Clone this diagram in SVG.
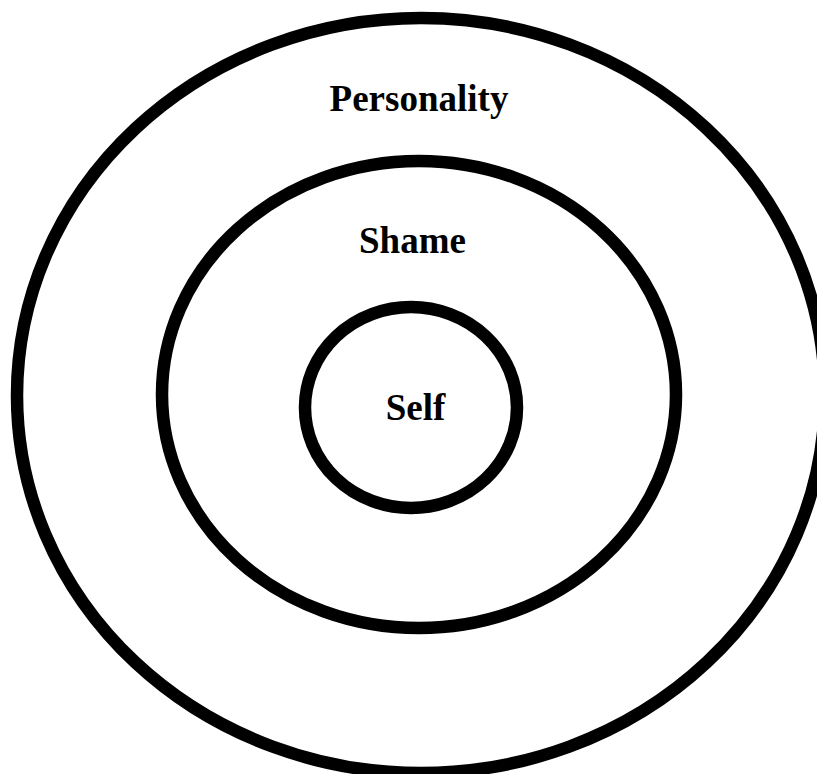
<svg xmlns="http://www.w3.org/2000/svg" width="817" height="774" viewBox="0 0 817 774">
<style>
.ring{fill:none;stroke:#000;stroke-width:12.5}
.lbl{font-family:"Liberation Serif","Times New Roman",serif;font-weight:bold;font-size:37px;fill:#000;text-anchor:middle}
</style>
<rect width="817" height="774" fill="#fff"/>
<g id="personality">
<ellipse class="ring" cx="421" cy="395.5" rx="404" ry="377.5"/>
<text class="lbl" x="419" y="111">Personality</text>
</g>
<g id="shame">
<ellipse class="ring" cx="419" cy="394.5" rx="257" ry="233.5"/>
<text class="lbl" x="412.5" y="253">Shame</text>
</g>
<g id="self">
<ellipse class="ring" cx="411" cy="407.5" rx="106" ry="100.5"/>
<text class="lbl" x="415.5" y="420">Self</text>
</g>
<g id="connectors"></g>
</svg>
